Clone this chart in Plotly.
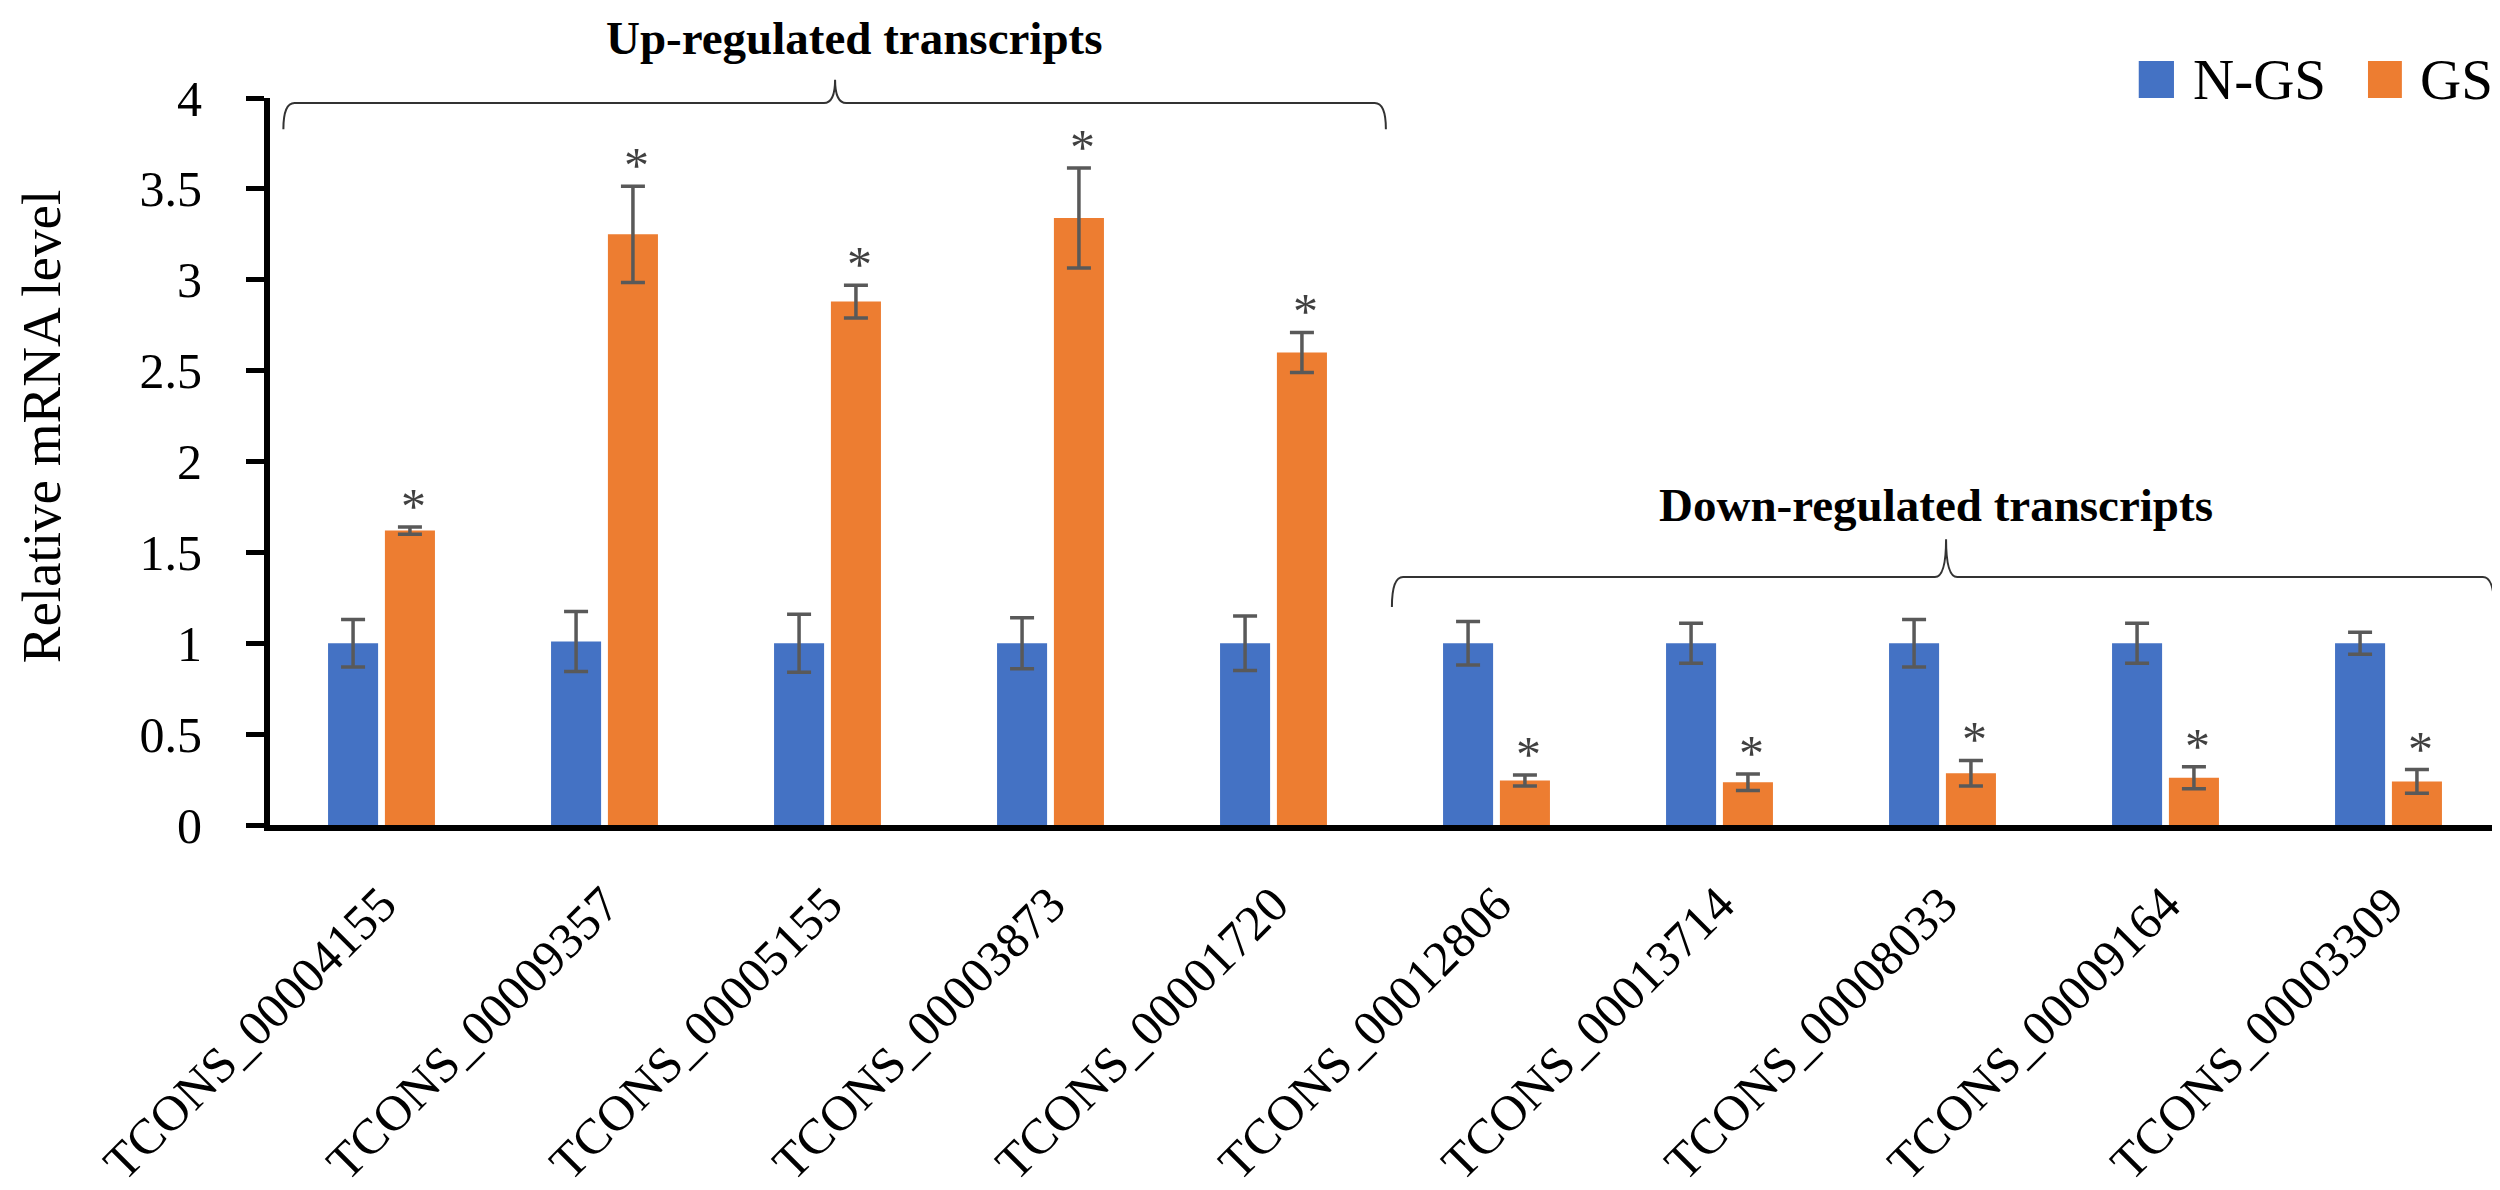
import plotly.graph_objects as go

transcripts = [
    "TCONS_00004155", "TCONS_00009357", "TCONS_00005155", "TCONS_00003873",
    "TCONS_00001720", "TCONS_00012806", "TCONS_00013714", "TCONS_00008033",
    "TCONS_00009164", "TCONS_00003309",
]
ngs_mean = [1.00, 1.01, 1.00, 1.00, 1.00, 1.00, 1.00, 1.00, 1.00, 1.00]
ngs_err = [0.13, 0.165, 0.16, 0.14, 0.15, 0.12, 0.11, 0.13, 0.11, 0.06]
gs_mean = [1.62, 3.25, 2.88, 3.34, 2.60, 0.245, 0.235, 0.285, 0.26, 0.24]
gs_err = [0.02, 0.265, 0.09, 0.275, 0.11, 0.03, 0.045, 0.07, 0.06, 0.065]
y_ticks = [0, 0.5, 1, 1.5, 2, 2.5, 3, 3.5, 4]

BLUE = "#4472C4"
ORANGE = "#ED7D31"
FONT = "Liberation Serif, Times New Roman, serif"

fig = go.Figure()

fig.add_trace(go.Bar(
    x=transcripts, y=ngs_mean, name="N-GS",
    marker=dict(color=BLUE, line=dict(width=0)),
    error_y=dict(type="data", array=ngs_err, color="#595959",
                 thickness=3.5, width=12),
    showlegend=False,
))
fig.add_trace(go.Bar(
    x=transcripts, y=gs_mean, name="GS",
    marker=dict(color=ORANGE, line=dict(width=0)),
    error_y=dict(type="data", array=gs_err, color="#595959",
                 thickness=3.5, width=12),
    showlegend=False,
))

# significance stars above the GS error bars
for t, v, e in zip(transcripts, gs_mean, gs_err):
    fig.add_annotation(
        x=t, y=v + e, text="*", showarrow=False,
        xshift=32, yshift=-9, yanchor="bottom",
        font=dict(family=FONT, size=50, color="#404040"),
    )


def brace(x0, x1, xc, y_tip, y_line, y_peak, r=0.005):
    return (
        f"M {x0},{y_tip} Q {x0},{y_line} {x0 + r},{y_line} "
        f"L {xc - r},{y_line} Q {xc},{y_line} {xc},{y_peak} "
        f"Q {xc},{y_line} {xc + r},{y_line} "
        f"L {x1 - r},{y_line} Q {x1},{y_line} {x1},{y_tip}"
    )


fig.add_shape(type="path", xref="paper", yref="paper",
              path=brace(0.006, 0.5004, 0.2534, 0.957, 0.993, 1.025),
              line=dict(color="#333333", width=2))
fig.add_shape(type="path", xref="paper", yref="paper",
              path=brace(0.5031, 0.9973, 0.7516, 0.300, 0.341, 0.393),
              line=dict(color="#333333", width=2))

fig.add_annotation(x=0.2619, y=1.0825, xref="paper", yref="paper",
                   xanchor="center", yanchor="middle",
                   text="<b>Up-regulated transcripts</b>", showarrow=False,
                   font=dict(family=FONT, size=47, color="black"))
fig.add_annotation(x=0.7471, y=0.4402, xref="paper", yref="paper",
                   xanchor="center", yanchor="middle",
                   text="<b>Down-regulated transcripts</b>", showarrow=False,
                   font=dict(family=FONT, size=47, color="black"))

# legend drawn by hand so the swatches can be large
fig.add_shape(type="rect", xref="paper", yref="paper",
              x0=0.838, x1=0.8538, y0=1.0, y1=1.0509,
              fillcolor=BLUE, line=dict(width=0))
fig.add_shape(type="rect", xref="paper", yref="paper",
              x0=0.9408, x1=0.956, y0=1.0, y1=1.0509,
              fillcolor=ORANGE, line=dict(width=0))
fig.add_annotation(x=0.8614, y=1.026, xref="paper", yref="paper",
                   text="N-GS", showarrow=False,
                   xanchor="left", yanchor="middle",
                   font=dict(family=FONT, size=57, color="black"))
fig.add_annotation(x=0.9632, y=1.026, xref="paper", yref="paper",
                   text="GS", showarrow=False,
                   xanchor="left", yanchor="middle",
                   font=dict(family=FONT, size=57, color="black"))

fig.add_annotation(x=-0.1025, y=0.549, xref="paper", yref="paper",
                   xanchor="center", yanchor="middle",
                   text="Relative mRNA level", showarrow=False,
                   textangle=-90,
                   font=dict(family=FONT, size=55, color="black"))

fig.update_layout(
    width=2500, height=1190,
    margin=dict(l=262, r=8, t=90, b=373),
    paper_bgcolor="white", plot_bgcolor="white",
    barmode="group", bargap=0.49, bargroupgap=0.12,
    font=dict(family=FONT, color="black"),
)
fig.update_xaxes(
    showline=True, linewidth=6, linecolor="black",
    ticks="", tickangle=-45, showgrid=False,
    ticklabelstandoff=24,
    tickfont=dict(family=FONT, size=50, color="black"),
)
fig.update_yaxes(
    range=[0, 4], tickvals=y_ticks, showgrid=False, zeroline=False,
    showline=True, linewidth=6, linecolor="black",
    ticks="outside", ticklen=18, tickwidth=5, tickcolor="black",
    ticklabelstandoff=34,
    tickfont=dict(family=FONT, size=50, color="black"),
)

fig.write_html("out.html")
